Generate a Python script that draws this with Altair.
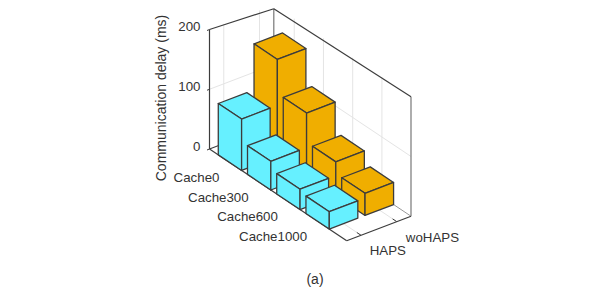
import altair as alt

# ---- values ----
categories = ["Cache0", "Cache300", "Cache600", "Cache1000"]
series = ["HAPS", "woHAPS"]
haps_delay = [86, 48, 34, 29]
wohaps_delay = [163, 106, 57, 37]
z_ticks = [0, 100, 200]
x_label = "Communication delay (ms)"
caption = "(a)"

CYAN = "#66F0FF"
ORANGE = "#F0AE00"
EDGE = "#3C3C3C"
GRID = "#E4E4E4"
TEXT = "#333333"
FONT = "Liberation Sans"

# ---- oblique projection of the 3-D axes box (page pixels minus margin) ----
OX, OY = 209.5 - 8, 149 - 8
UX, UY = 137.2, 91.7
VX, VY = 64.3, -24.5
ZK = 119.5 / 200
ZMAX = 200
U_STEP, U_FIRST, U_W = 0.213, 0.149, 0.17
V_C = [0.222, 0.778]
V_W = 0.444


def P(u, v, z=0):
    return [OX + u * UX + v * VX, OY + u * UY + v * VY - z * ZK]


def line(a, b, color, width):
    return {"type": "Feature",
            "geometry": {"type": "LineString", "coordinates": [a, b]},
            "properties": {"c": color, "w": width}}


def poly(pts, color):
    return {"type": "Feature",
            "geometry": {"type": "Polygon", "coordinates": [pts + [pts[0]]]},
            "properties": {"c": color}}


u_c = [U_FIRST + i * U_STEP for i in range(len(categories))]

# The far top corner sits above the drawable area of the page: keep it just inside.
apex = P(0, 1, ZMAX)
apex = [apex[0], max(apex[1], 0.7)]

back_lines = []
for z in z_ticks:
    if 0 < z < ZMAX:
        back_lines.append(line(P(0, 0, z), P(0, 1, z), GRID, 1))
        back_lines.append(line(P(0, 1, z), P(1, 1, z), GRID, 1))
for u in u_c:
    back_lines.append(line(P(u, 1, 0), P(u, 1, ZMAX), GRID, 1))
    back_lines.append(line(P(u, 0, 0), P(u, 1, 0), GRID, 1))
for v in V_C:
    back_lines.append(line(P(0, v, 0), P(0, v, ZMAX), GRID, 1))
    back_lines.append(line(P(0, v, 0), P(1, v, 0), GRID, 1))
back_lines.append(line(P(0, 1, 0), apex, "#777777", 1.2))
back_lines.append(line(P(1, 1, 0), P(1, 1, ZMAX), "#777777", 1.2))
back_lines.append(line(P(0, 0, 0), P(0, 1, 0), EDGE, 1.1))
back_lines.append(line(P(0, 1, 0), P(1, 1, 0), "#999999", 1))
back_lines.append(line(P(0, 0, 0), P(0, 0, ZMAX), EDGE, 1.2))
back_lines.append(line(P(0, 0, ZMAX), apex, EDGE, 1.2))
back_lines.append(line(apex, P(1, 1, ZMAX), EDGE, 1.2))
back_lines.append(line(P(0, 0, 0), P(1, 0, 0), EDGE, 1.2))
back_lines.append(line(P(1, 0, 0), P(1, 1, 0), EDGE, 1.2))
for u in u_c:
    back_lines.append(line(P(u, 0, 0), P(u, 0.06, 0), EDGE, 1))
for v in V_C:
    back_lines.append(line(P(1, v, 0), P(0.97, v, 0), EDGE, 1))
for z in z_ticks:
    a = P(0, 0, z)
    back_lines.append(line(a, [a[0] - 2.5, a[1] + 1], EDGE, 1))

faces = []
for vi, vals, col in [(1, wohaps_delay, ORANGE), (0, haps_delay, CYAN)]:
    v0, v1 = V_C[vi] - V_W / 2, V_C[vi] + V_W / 2
    for uc, h in zip(u_c, vals):
        u0, u1 = uc - U_W / 2, uc + U_W / 2
        faces.append(poly([P(u0, v0, h), P(u1, v0, h), P(u1, v1, h), P(u0, v1, h)], col))
        faces.append(poly([P(u0, v0, 0), P(u1, v0, 0), P(u1, v0, h), P(u0, v0, h)], col))
        faces.append(poly([P(u1, v0, 0), P(u1, v1, 0), P(u1, v1, h), P(u1, v0, h)], col))

proj = alt.Projection(type="identity", scale=1, translate=[0, 0])

bg = alt.Chart(alt.Data(values=back_lines)).mark_geoshape(filled=False).encode(
    stroke=alt.Color("properties.c:N", scale=None),
    strokeWidth=alt.StrokeWidth("properties.w:Q", scale=None),
).project(**proj.to_dict())

bars = alt.Chart(alt.Data(values=faces)).mark_geoshape(
    stroke=EDGE, strokeWidth=1.3, strokeJoin="round"
).encode(
    fill=alt.Color("properties.c:N", scale=None),
).project(**proj.to_dict())

labels = []
for c, uc in zip(categories, u_c):
    p = P(uc, 0)
    labels.append({"t": c, "x": p[0] - 10.5, "y": p[1] + 15.5})
for s, v, dx, dy in zip(series, V_C, (45, 62.3), (15.5, 16)):
    p = P(1, v)
    labels.append({"t": s, "x": p[0] + dx, "y": p[1] + dy})
for z in z_ticks:
    p = P(0, 0, z)
    labels.append({"t": str(z), "x": p[0] - 9, "y": p[1] - 2.5})


def text_layer(rows, **kw):
    return alt.Chart(alt.Data(values=rows)).mark_text(
        font=FONT, color=TEXT, baseline="middle", **kw
    ).encode(
        x=alt.X("x:Q", scale=None),
        y=alt.Y("y:Q", scale=None),
        text="t:N",
    )


tick_text = text_layer(labels, fontSize=13.3, align="right")
ylab = text_layer([{"t": x_label, "x": 161.5 - 8, "y": 98 - 8}], fontSize=14, align="center", angle=270)
cap = text_layer([{"t": caption, "x": 315 - 8, "y": 280 - 8}], fontSize=14, align="center")

chart = alt.layer(bg, bars, tick_text, ylab, cap).properties(
    width=583, height=281, padding=0,
    autosize=alt.AutoSizeParams(type="none"),
    background="white",
).configure_view(stroke=None)

chart.save("out.html", embed_options={"renderer": "svg", "actions": False})
